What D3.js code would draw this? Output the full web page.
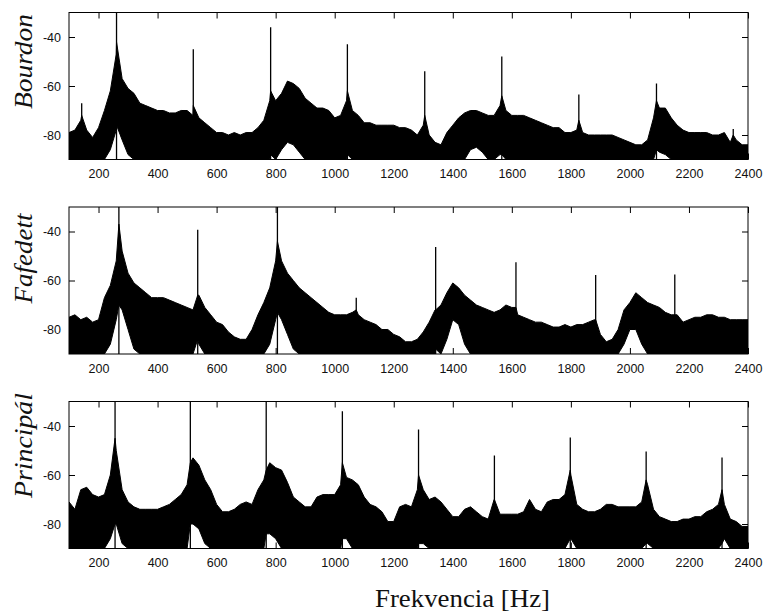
<!DOCTYPE html>
<html>
<head>
<meta charset="utf-8">
<script src="https://cdn.jsdelivr.net/npm/d3@7"></script>
<style>
  body { margin: 0; background: #fff; }
  svg { display: block; }
</style>
</head>
<body>
<svg id="canvas" width="765" height="612"></svg>
<script>
// frequency grid of the envelopes (every 20 Hz)
const freqs = d3.range(100, 2401, 20)
const xTicks = [200, 400, 600, 800, 1000, 1200, 1400, 1600, 1800, 2000, 2200, 2400]
const yTicks = [-80, -60, -40]
const xLabel = "Frekvencia [Hz]"

// upper / lower edge of the noise band in dB
const bourdonTop = [
  -79, -78, -74, -78, -81, -77, -70, -62, -47, -57,
  -61, -63, -67, -68, -69, -70, -70, -71, -71, -70,
  -70, -72, -73, -75, -77, -79, -79, -80, -79, -80,
  -79, -79, -77, -74, -66, -66, -63, -58, -59, -61,
  -65, -67, -69, -69, -70, -73, -72, -66, -70, -72,
  -75, -75, -76, -76, -76, -76, -77, -77, -78, -80,
  -76, -80, -83, -84, -79, -76, -73, -71, -70, -70,
  -71, -72, -72, -68, -70, -72, -72, -72, -73, -74,
  -75, -76, -77, -77, -79, -79, -78, -79, -80, -80,
  -80, -80, -80, -81, -82, -83, -84, -84, -82, -73,
  -69, -69, -73, -76, -78, -79, -79, -79, -79, -80,
  -80, -79, -83, -82, -84, -84
]
const bourdonBottom = [
  -90, -90, -90, -90, -90, -90, -90, -86, -78, -82,
  -88, -90, -90, -90, -90, -90, -90, -90, -90, -90,
  -90, -90, -90, -90, -90, -90, -90, -90, -90, -90,
  -90, -90, -90, -90, -90, -90, -86, -83, -84, -87,
  -90, -90, -90, -90, -90, -90, -90, -90, -90, -90,
  -90, -90, -90, -90, -90, -90, -90, -90, -90, -90,
  -90, -90, -90, -90, -90, -90, -90, -90, -86, -85,
  -87, -90, -90, -88, -90, -90, -90, -90, -90, -90,
  -90, -90, -90, -90, -90, -90, -90, -90, -90, -90,
  -90, -90, -90, -90, -90, -90, -90, -90, -90, -90,
  -87, -88, -90, -90, -90, -90, -90, -90, -90, -90,
  -90, -90, -90, -90, -90, -90
]
// [freq, band top, band bottom, spike top]
const bourdonPeaks = [
  [143, -72, -90, -67], [261, -42, -76, -28], [521, -68, -90, -45],
  [783, -62, -88, -36], [1043, -62, -88, -43], [1305, -72, -90, -54],
  [1566, -64, -88, -48], [1827, -74, -90, -63.5], [2090, -66, -86, -59],
  [2350, -80, -90, -77.5]
]

const fafedettTop = [
  -75, -74, -76, -75, -77, -76, -67, -62, -52, -48,
  -57, -61, -63, -65, -67, -67, -67, -68, -69, -70,
  -71, -72, -66, -71, -74, -77, -78, -81, -83, -84,
  -84, -80, -74, -69, -63, -52, -52, -57, -60, -63,
  -65, -67, -69, -71, -73, -74, -74, -74, -73, -74,
  -76, -77, -78, -80, -80, -82, -83, -85, -85, -84,
  -81, -77, -72, -70, -65, -61, -63, -66, -68, -70,
  -71, -72, -73, -72, -70, -71, -74, -75, -76, -77,
  -77, -78, -79, -79, -78, -79, -78, -78, -77, -76,
  -82, -85, -84, -80, -72, -69, -65, -67, -69, -70,
  -71, -73, -74, -74, -77, -76, -75, -75, -74, -74,
  -75, -75, -76, -76, -76, -76
]
const fafedettBottom = [
  -90, -90, -90, -90, -90, -90, -90, -86, -76, -72,
  -80, -88, -90, -90, -90, -90, -90, -90, -90, -90,
  -90, -90, -86, -90, -90, -90, -90, -90, -90, -90,
  -90, -90, -90, -90, -86, -76, -76, -82, -88, -90,
  -90, -90, -90, -90, -90, -90, -90, -90, -90, -90,
  -90, -90, -90, -90, -90, -90, -90, -90, -90, -90,
  -90, -90, -90, -90, -84, -76, -78, -86, -90, -90,
  -90, -90, -90, -90, -90, -90, -90, -90, -90, -90,
  -90, -90, -90, -90, -90, -90, -90, -90, -90, -90,
  -90, -90, -90, -90, -86, -80, -80, -86, -90, -90,
  -90, -90, -90, -90, -90, -90, -90, -90, -90, -90,
  -90, -90, -90, -90, -90, -90
]
const fafedettPeaks = [
  [269, -37, -70, -28], [536, -66, -84, -39.3], [806, -44, -73, -28],
  [1073, -72, -90, -67], [1342, -72, -88, -46.3], [1614, -71, -90, -52.5],
  [1884, -76, -90, -57.8], [2152, -74, -90, -57.5]
]

const principalTop = [
  -71, -74, -66, -65, -68, -69, -68, -60, -50, -66,
  -71, -73, -74, -74, -74, -74, -73, -72, -70, -68,
  -64, -53, -56, -62, -66, -72, -75, -75, -74, -72,
  -71, -72, -66, -62, -55, -57, -58, -63, -69, -71,
  -73, -73, -69, -68, -68, -68, -64, -61, -62, -64,
  -69, -72, -73, -75, -79, -79, -73, -72, -73, -66,
  -66, -70, -69, -71, -74, -77, -77, -74, -73, -75,
  -77, -78, -70, -76, -76, -76, -76, -75, -70, -74,
  -75, -71, -70, -70, -68, -60, -72, -74, -75, -75,
  -74, -72, -72, -73, -73, -73, -73, -71, -64, -74,
  -77, -78, -79, -79, -78, -78, -77, -77, -75, -74,
  -72, -72, -78, -79, -81, -81
]
const principalBottom = [
  -90, -90, -90, -90, -90, -90, -90, -86, -80, -88,
  -90, -90, -90, -90, -90, -90, -90, -90, -90, -90,
  -90, -80, -82, -88, -90, -90, -90, -90, -90, -90,
  -90, -90, -90, -90, -84, -86, -90, -90, -90, -90,
  -90, -90, -90, -90, -90, -90, -90, -86, -90, -90,
  -90, -90, -90, -90, -90, -90, -90, -90, -90, -90,
  -88, -90, -90, -90, -90, -90, -90, -90, -90, -90,
  -90, -90, -90, -90, -90, -90, -90, -90, -90, -90,
  -90, -90, -90, -90, -90, -86, -90, -90, -90, -90,
  -90, -90, -90, -90, -90, -90, -90, -90, -88, -90,
  -90, -90, -90, -90, -90, -90, -90, -90, -90, -90,
  -90, -86, -90, -90, -90, -90
]
const principalPeaks = [
  [256, -45, -80, -28], [511, -55, -80, -28], [768, -58, -84, -28],
  [1026, -55, -86, -34], [1284, -60, -88, -41.4], [1541, -70, -90, -52],
  [1798, -58, -86, -44.7], [2055, -62, -88, -50.4], [2312, -66, -88, -52.9]
]

const panels = [
  {name: "Bourdon", top: bourdonTop, bottom: bourdonBottom, peaks: bourdonPeaks},
  {name: "Fafedett", top: fafedettTop, bottom: fafedettBottom, peaks: fafedettPeaks},
  {name: "Principál", top: principalTop, bottom: principalBottom, peaks: principalPeaks}
]

const left = 69
const right = 748
const panelTops = [12.5, 207, 401.5]
const panelH = 147
const labelLen = [95, 90, 105]

let canvas = d3.select("#canvas")

let x = d3.scaleLinear()
          .domain([100, 2400])
          .range([left, right])

panels.forEach((p, k) => {
  let top = panelTops[k]
  let y = d3.scaleLinear()
            .domain([-90, -30])
            .range([top + panelH, top])

  canvas.append("clipPath")
        .attr("id", "clip" + k)
        .append("rect")
        .attr("x", left)
        .attr("y", top)
        .attr("width", right - left)
        .attr("height", panelH)

  let g = canvas.append("g")
                .attr("clip-path", "url(#clip" + k + ")")

  let pts = freqs.map((f, i) => ({f: f, hi: p.top[i], lo: p.bottom[i]}))
  p.peaks.forEach((d) => pts.push({f: d[0], hi: d[1], lo: d[2]}))
  pts.sort((a, b) => a.f - b.f)

  g.append("path")
   .datum(pts)
   .attr("d", d3.area()
                .x((d) => x(d.f))
                .y0((d) => y(d.lo))
                .y1((d) => y(d.hi)))
   .attr("fill", "#000")
   .attr("stroke", "#000")
   .attr("stroke-width", 1)
   .attr("stroke-linejoin", "round")

  g.selectAll("line.peak")
   .data(p.peaks)
   .enter()
   .append("line")
   .attr("class", "peak")
   .attr("x1", (d) => x(d[0]))
   .attr("x2", (d) => x(d[0]))
   .attr("y1", y(-90))
   .attr("y2", (d) => y(d[3]))
   .attr("stroke", "#000")
   .attr("stroke-width", 1.3)

  // box
  canvas.append("rect")
        .attr("x", left)
        .attr("y", top)
        .attr("width", right - left)
        .attr("height", panelH)
        .attr("fill", "none")
        .attr("stroke", "#000")
        .attr("stroke-width", 1)

  let bottomAxis = canvas.append("g")
                         .attr("transform", "translate(0," + (top + panelH) + ")")
                         .call(d3.axisBottom(x).tickValues(xTicks).tickSize(-6).tickPadding(10).tickFormat((d) => String(d)))
  let topAxis = canvas.append("g")
                      .attr("transform", "translate(0," + top + ")")
                      .call(d3.axisTop(x).tickValues(xTicks).tickSize(-6).tickFormat(""))
  let leftAxis = canvas.append("g")
                       .attr("transform", "translate(" + left + ",0)")
                       .call(d3.axisLeft(y).tickValues(yTicks).tickSize(-6).tickPadding(8).tickFormat((d) => String(d)))
  let rightAxis = canvas.append("g")
                        .attr("transform", "translate(" + right + ",0)")
                        .call(d3.axisRight(y).tickValues(yTicks).tickSize(-6).tickFormat(""))

  ;[bottomAxis, topAxis, leftAxis, rightAxis].forEach((a) => {
    a.select(".domain").remove()
    a.attr("font-family", "'Liberation Sans', Arial, Helvetica, sans-serif")
     .attr("font-size", 12.5)
    a.selectAll("line").attr("stroke", "#000")
    a.selectAll("text").attr("fill", "#111")
  })

  canvas.append("text")
        .attr("transform", "translate(32," + (top + 96.5) + ") rotate(-90)")
        .attr("font-family", "'Liberation Serif', 'Times New Roman', serif")
        .attr("font-style", "italic")
        .attr("font-size", 25)
        .attr("textLength", labelLen[k])
        .attr("lengthAdjust", "spacingAndGlyphs")
        .attr("fill", "#111")
        .text(p.name)
})

canvas.append("text")
      .attr("x", 375)
      .attr("y", 606.7)
      .attr("font-family", "'Liberation Serif', 'Times New Roman', serif")
      .attr("font-size", 25)
      .attr("textLength", 175)
      .attr("lengthAdjust", "spacingAndGlyphs")
      .attr("fill", "#111")
      .text(xLabel)
</script>
</body>
</html>
